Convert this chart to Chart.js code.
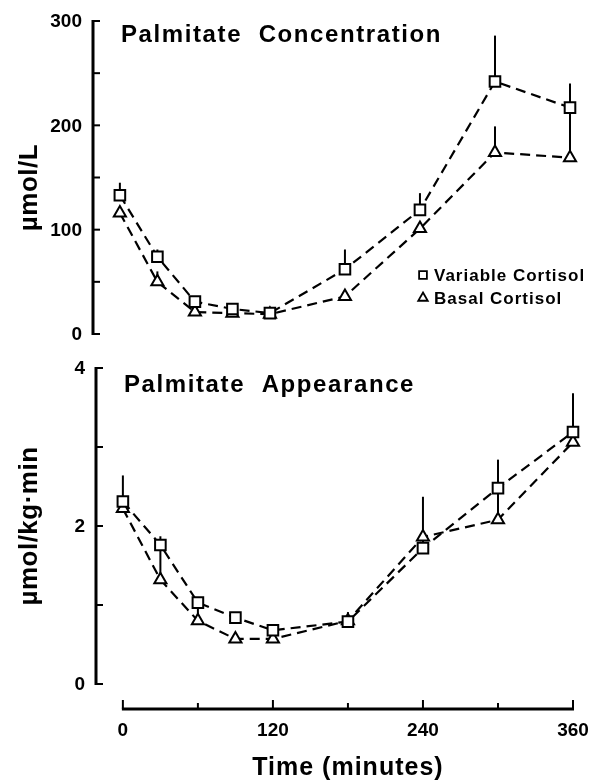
<!DOCTYPE html>
<html>
<head>
<meta charset="utf-8">
<title>Palmitate</title>
<script src="https://cdn.jsdelivr.net/npm/chart.js@4.4.0/dist/chart.umd.min.js"></script>
<style>
  html, body { margin: 0; padding: 0; background: #fff; }
  #wrap { position: relative; width: 593px; height: 783px; }
  .panel { position: absolute; left: 0; width: 593px; }
  #top-panel { top: 0; height: 350px; }
  #bottom-panel { top: 350px; height: 433px; }
</style>
</head>
<body>
<div id="wrap">
  <div class="panel" id="top-panel"><canvas id="conc-chart"></canvas></div>
  <div class="panel" id="bottom-panel"><canvas id="ra-chart"></canvas></div>
</div>
<script>
// sampling times (minutes)
const times = [0, 30, 60, 90, 120, 180, 240, 300, 360];

// palmitate concentration (umol/L)
const concVariable = [133, 74, 31, 24, 20, 62, 119, 242, 217];
const concBasal = [116, 50, 21, 20, 19, 36, 101, 174, 169];
const concVariableErr = [12, 7, 0, 0, 0, 19, 16, 44, 23];
const concBasalErr = [0, 10, 0, 0, 0, 0, 0, 25, 48];

// palmitate appearance (umol/kg.min)
const raVariable = [2.31, 1.76, 1.03, 0.84, 0.68, 0.79, 1.72, 2.48, 3.19];
const raBasal = [2.22, 1.32, 0.80, 0.57, 0.57, 0.80, 1.86, 2.08, 3.06];
const raVariableErr = [0.33, 0.11, 0, 0, 0, 0.12, 0.65, 0.36, 0.49];
const raBasalErr = [0, 0.44, 0.15, 0, 0, 0, 0, 0.40, 0];

// axis ticks
const concTicks = [0, 100, 200, 300];
const concMinorTicks = [50, 150, 250];
const raTicks = [0, 2, 4];
const raMinorTicks = [1, 3];
const timeTicks = [0, 120, 240, 360];
const timeMinorTicks = [60, 180, 300];

const seriesNames = ['Variable Cortisol', 'Basal Cortisol'];

const FONT = '"Liberation Sans", Arial, Helvetica, sans-serif';

function makeDataset(label, values, style, radius) {
    return {
        label: label,
        data: times.map((t, i) => ({ x: t, y: values[i] })),
        borderColor: '#000',
        borderWidth: 2.2,
        borderDash: [10, 6],
        pointStyle: style,
        pointRadius: radius,
        pointHoverRadius: radius,
        pointBorderWidth: 2,
        pointBackgroundColor: '#fff',
        pointBorderColor: '#000',
        tension: 0,
        clip: false
    };
}

// vertical error bars, drawn under the markers
function errorBarsPlugin(errs) {
    return {
        id: 'errorBars',
        beforeDatasetsDraw(chart) {
            const ctx = chart.ctx;
            const xs = chart.scales.x, ys = chart.scales.y;
            ctx.save();
            ctx.strokeStyle = '#000';
            ctx.lineWidth = 2;
            chart.data.datasets.forEach((ds, di) => {
                ds.data.forEach((p, i) => {
                    const e = errs[di][i];
                    if (!e) return;
                    const px = xs.getPixelForValue(p.x);
                    ctx.beginPath();
                    ctx.moveTo(px, ys.getPixelForValue(p.y));
                    ctx.lineTo(px, ys.getPixelForValue(p.y + e));
                    ctx.stroke();
                });
            });
            ctx.restore();
        }
    };
}

// hand drawn axes in the style of the figure
function axesPlugin(cfg) {
    return {
        id: 'figAxes',
        afterDraw(chart) {
            const ctx = chart.ctx;
            const area = chart.chartArea;
            const xs = chart.scales.x, ys = chart.scales.y;
            ctx.save();
            ctx.strokeStyle = '#000';
            ctx.fillStyle = '#000';

            // y axis
            const ax = area.left;
            ctx.lineWidth = 3;
            ctx.beginPath();
            ctx.moveTo(ax, ys.getPixelForValue(ys.max) - 1);
            ctx.lineTo(ax, ys.getPixelForValue(ys.min) + 1);
            ctx.stroke();
            ctx.lineWidth = 2;
            cfg.yTicks.concat(cfg.yMinor).forEach(v => {
                const py = ys.getPixelForValue(v);
                ctx.beginPath();
                ctx.moveTo(ax, py);
                ctx.lineTo(ax + 7, py);
                ctx.stroke();
            });
            ctx.font = 'bold 19px ' + FONT;
            ctx.textAlign = 'right';
            ctx.textBaseline = 'middle';
            cfg.yTicks.forEach(v => {
                ctx.fillText(String(v), ax - 11, ys.getPixelForValue(v) + 1);
            });

            // y title
            ctx.save();
            ctx.translate(30, (area.top + area.bottom) / 2 + cfg.yTitleShift);
            ctx.rotate(-Math.PI / 2);
            ctx.textAlign = 'center';
            ctx.font = 'bold 26px ' + FONT;
            ctx.letterSpacing = '0.5px';
            ctx.fillText(cfg.yTitle, 0, 0);
            ctx.restore();

            // panel title
            ctx.font = 'bold 24px ' + FONT;
            ctx.letterSpacing = '1.6px';
            ctx.textAlign = 'left';
            ctx.fillText(cfg.title, cfg.titleX, cfg.titleY);
            ctx.letterSpacing = '0px';

            // x axis (bottom panel only)
            if (cfg.xAxis) {
                const base = area.bottom + 25;
                const x0 = xs.getPixelForValue(timeTicks[0]);
                const x1 = xs.getPixelForValue(timeTicks[timeTicks.length - 1]);
                ctx.lineWidth = 3;
                ctx.beginPath();
                ctx.moveTo(x0 - 1, base);
                ctx.lineTo(x1 + 1, base);
                ctx.stroke();
                ctx.lineWidth = 2;
                timeTicks.forEach(v => {
                    const px = xs.getPixelForValue(v);
                    ctx.beginPath();
                    ctx.moveTo(px, base);
                    ctx.lineTo(px, base - 9);
                    ctx.stroke();
                });
                timeMinorTicks.forEach(v => {
                    const px = xs.getPixelForValue(v);
                    ctx.beginPath();
                    ctx.moveTo(px, base);
                    ctx.lineTo(px, base - 6);
                    ctx.stroke();
                });
                ctx.font = 'bold 19px ' + FONT;
                ctx.textAlign = 'center';
                timeTicks.forEach(v => {
                    ctx.fillText(String(v), xs.getPixelForValue(v), base + 22);
                });
                ctx.font = 'bold 25px ' + FONT;
                ctx.letterSpacing = '1px';
                ctx.fillText('Time (minutes)', xs.getPixelForValue(180), base + 59);
                ctx.letterSpacing = '0px';
            }

            // legend (top panel only)
            if (cfg.legend) {
                const styles = ['rect', 'triangle'];
                ctx.font = 'bold 17px ' + FONT;
                ctx.letterSpacing = '1px';
                ctx.textAlign = 'left';
                seriesNames.forEach((name, i) => {
                    const ly = cfg.legendY + i * 23;
                    ctx.lineWidth = 1.8;
                    ctx.fillStyle = '#fff';
                    Chart.helpers.drawPoint(ctx, {
                        pointStyle: styles[i], rotation: 0, radius: 5.5, borderWidth: 1.8
                    }, cfg.legendX, ly);
                    ctx.fillStyle = '#000';
                    ctx.fillText(name, cfg.legendX + 11, ly + 1);
                });
                ctx.letterSpacing = '0px';
            }
            ctx.restore();
        }
    };
}

const concChart = new Chart(document.getElementById('conc-chart').getContext('2d'), {
    type: 'line',
    data: {
        datasets: [
            makeDataset(seriesNames[0], concVariable, 'rect', 7.5),
            makeDataset(seriesNames[1], concBasal, 'triangle', 7)
        ]
    },
    options: {
        responsive: true,
        maintainAspectRatio: false,
        animation: false,
        layout: { padding: { left: 93, right: 23, top: 21, bottom: 16 } },
        plugins: { legend: { display: false }, tooltip: { enabled: false } },
        scales: {
            x: { type: 'linear', display: false, min: -21.5, max: 360 },
            y: { display: false, min: 0, max: 300 }
        }
    },
    plugins: [
        errorBarsPlugin([concVariableErr, concBasalErr]),
        axesPlugin({
            yTicks: concTicks, yMinor: concMinorTicks,
            yTitle: 'µmol/L', yTitleShift: 10,
            title: 'Palmitate  Concentration', titleX: 121, titleY: 35,
            xAxis: false, legend: true, legendX: 423, legendY: 275
        })
    ]
});

const raChart = new Chart(document.getElementById('ra-chart').getContext('2d'), {
    type: 'line',
    data: {
        datasets: [
            makeDataset(seriesNames[0], raVariable, 'rect', 7.5),
            makeDataset(seriesNames[1], raBasal, 'triangle', 7)
        ]
    },
    options: {
        responsive: true,
        maintainAspectRatio: false,
        animation: false,
        layout: { padding: { left: 96, right: 20, top: 18, bottom: 99 } },
        plugins: { legend: { display: false }, tooltip: { enabled: false } },
        scales: {
            x: { type: 'linear', display: false, min: -21.5, max: 360 },
            y: { display: false, min: 0, max: 4 }
        }
    },
    plugins: [
        errorBarsPlugin([raVariableErr, raBasalErr]),
        axesPlugin({
            yTicks: raTicks, yMinor: raMinorTicks,
            yTitle: 'µmol/kg·min', yTitleShift: 0,
            title: 'Palmitate  Appearance', titleX: 124, titleY: 35,
            xAxis: true, legend: false
        })
    ]
});
</script>
</body>
</html>
